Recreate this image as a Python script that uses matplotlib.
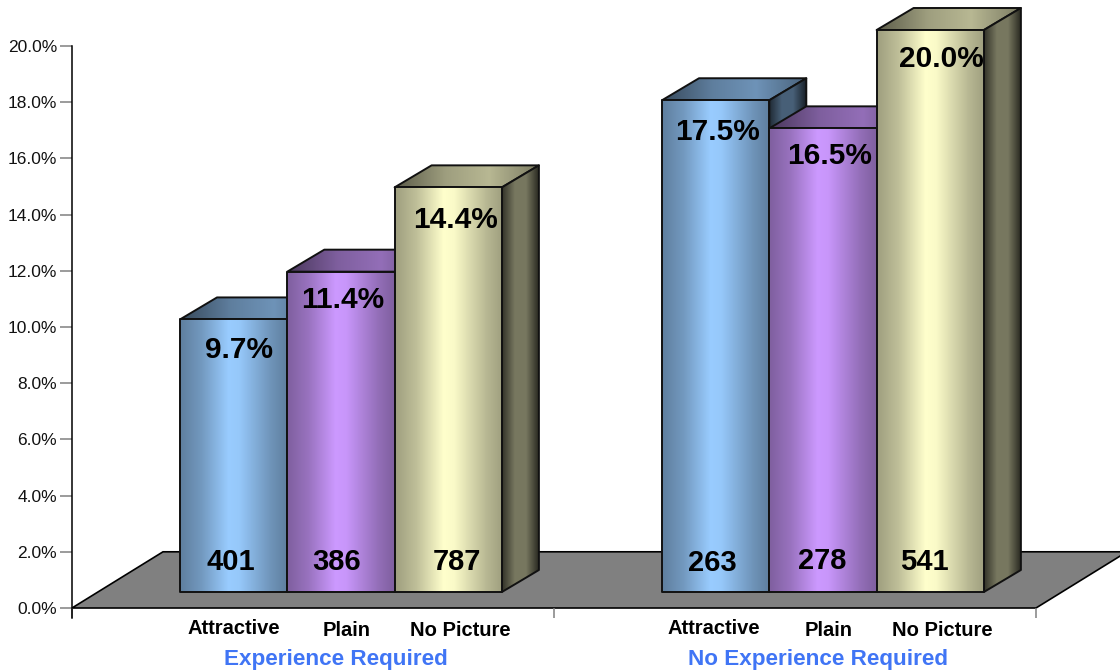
import numpy as np
import matplotlib
matplotlib.use("Agg")
import matplotlib.pyplot as plt
from matplotlib.patches import Polygon
from matplotlib.ticker import FixedLocator, PercentFormatter

# ---- data ----
groups = ["Experience Required", "No Experience Required"]
categories = ["Attractive", "Plain", "No Picture"]
percent_required = [9.7, 11.4, 14.4]
percent_not_required = [17.5, 16.5, 20.0]
counts_required = [401, 386, 787]
counts_not_required = [263, 278, 541]
y_ticks = [0, 2, 4, 6, 8, 10, 12, 14, 16, 18, 20]

# ---- style ----
bar_colors = ["#99CCFF", "#CC99FF", "#FFFFCC"]
group_color = "#4075F5"
plt.rcParams["font.family"] = ["Liberation Sans", "DejaVu Sans"]

W, H = 1120, 672
fig = plt.figure(figsize=(W / 100, H / 100), dpi=100, facecolor="white")
ax = fig.add_axes([72 / W, (H - 608) / H, 964 / W, 562 / H])
ax.set_facecolor("none")
PX_Y = 562 / 20.0          # pixels per percentage point
PX_X = 482.0               # pixels per group
PT = 0.72                  # points per pixel

bar_w = 107.3 / PX_X
gap = 108 / PX_X
lift = 16 / PX_Y
depth_x = 37 / PX_X
depth_y = 22 / PX_Y

z = [2]


def shaded(poly_xy, stops, color, x0, x1):
    """Fill a polygon with a horizontal brightness gradient."""
    ts = np.linspace(0, 1, 256)
    b = np.interp(ts, [s[0] for s in stops], [s[1] for s in stops])
    rgb = np.array(matplotlib.colors.to_rgb(color))
    img = (b[:, None] * rgb)[None, :, :]
    ys = [p[1] for p in poly_xy]
    z[0] += 1
    poly = Polygon(poly_xy, closed=True, fc="none", ec="#111111", lw=1.4,
                   joinstyle="round", zorder=z[0] + 0.5, clip_on=False)
    ax.add_patch(poly)
    im = ax.imshow(img, extent=(x0, x1, min(ys), max(ys)), aspect="auto",
                   interpolation="bilinear", zorder=z[0], origin="lower")
    im.set_clip_path(poly)
    im.set_clip_box(fig.bbox)
    z[0] += 1


def draw_bar(left, value, color):
    right = left + bar_w
    y0, y1 = lift, value + lift
    # top face
    shaded([(left, y1), (right, y1), (right + depth_x, y1 + depth_y), (left + depth_x, y1 + depth_y)],
           [(0, 0.36), (0.35, 0.62), (0.65, 0.72), (1, 0.48)], color, left, right + depth_x)
    # side face
    shaded([(right, y0), (right + depth_x, y0 + depth_y), (right + depth_x, y1 + depth_y), (right, y1)],
           [(0, 0.2), (0.35, 0.47), (0.65, 0.47), (1, 0.16)], color, right, right + depth_x)
    # front face
    shaded([(left, y0), (right, y0), (right, y1), (left, y1)],
           [(0, 0.62), (0.2, 0.75), (0.45, 1.0), (0.55, 0.98), (0.85, 0.72), (1, 0.62)], color, left, right)


# floor
ax.add_patch(Polygon([(0, 0), (91 / PX_X, 2), (2 + 91 / PX_X, 2), (2, 0)], closed=True,
                     fc="#808080", ec="black", lw=1.2, clip_on=False, zorder=1))

pct_nudge = [(5, -31), (2, -28), (7, -33), (2, -32), (7, -28), (11, -29)]
cnt_nudge = [(-3, 30), (-4, 30), (9, 30), (-3, 29), (-1, 31), (-6, 30)]
cat_nudge = [(0, 1), (6, 3), (12, 3), (-2, 1), (6, 2), (12, 3)]

idx = 0
for g, (vals, cnts) in enumerate([(percent_required, counts_required),
                                  (percent_not_required, counts_not_required)]):
    for i, (v, c) in enumerate(zip(vals, cnts)):
        left = g + gap + i * bar_w
        draw_bar(left, v, bar_colors[i])
        cx = left + bar_w / 2
        dx, dy = pct_nudge[idx]
        ax.annotate(f"{v:.1f}%", (cx, v + lift), xytext=(dx * PT, dy * PT),
                    textcoords="offset points", ha="center", va="center",
                    fontsize=21.5, fontweight="bold", color="black", zorder=200,
                    annotation_clip=False)
        dx, dy = cnt_nudge[idx]
        ax.annotate(str(c), (cx, lift), xytext=(dx * PT, dy * PT),
                    textcoords="offset points", ha="center", va="center",
                    fontsize=21, fontweight="bold", color="black", zorder=200,
                    annotation_clip=False)
        dx, dy = cat_nudge[idx]
        ax.annotate(categories[i], (cx, 0), xytext=(dx * PT, (-20 - dy) * PT),
                    textcoords="offset points", ha="center", va="center",
                    fontsize=14.5, fontweight="bold", color="black", zorder=200,
                    annotation_clip=False)
        idx += 1
    ax.annotate(groups[g], (g + 0.5, 0), xytext=(23 * PT, -51 * PT),
                textcoords="offset points", ha="center", va="center",
                fontsize=16.2, fontweight="bold", color=group_color, zorder=200,
                annotation_clip=False)

ax.set_xlim(0, 2)
ax.set_ylim(0, 20)

for s in ["top", "right", "bottom"]:
    ax.spines[s].set_visible(False)
ax.spines["left"].set_bounds(-10 / PX_Y, 20)
ax.spines["left"].set_color("black")
ax.spines["left"].set_linewidth(1.1)

ax.yaxis.set_major_locator(FixedLocator(y_ticks))
ax.yaxis.set_major_formatter(PercentFormatter(decimals=1))
ax.tick_params(axis="y", length=12 * PT, width=1.1, color="#808080", pad=3 * PT,
               labelsize=12.5, labelcolor="#111111")
ax.set_xticks([0, 1, 2])
ax.set_xticklabels([])
ax.tick_params(axis="x", length=10 * PT, width=1.1, color="#808080")
for t in ax.xaxis.get_major_ticks():
    t.tick1line.set_zorder(0.5)

fig.savefig("out.png", dpi=100, facecolor="white")
